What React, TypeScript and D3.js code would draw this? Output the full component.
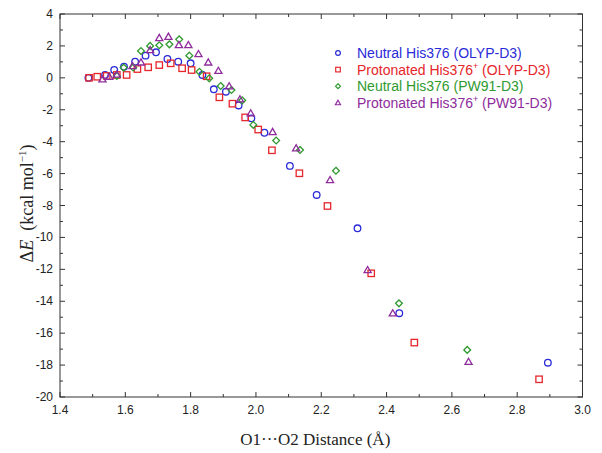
import React from "react";
import * as d3 from "d3";

const neutralOLYP_x = [1.487, 1.538, 1.566, 1.596, 1.630, 1.662, 1.694, 1.729, 1.762, 1.800, 1.836, 1.871, 1.908, 1.947, 1.986, 2.026, 2.104, 2.186, 2.311, 2.439, 2.894];
const neutralOLYP_y = [0.0, 0.18, 0.49, 0.70, 1.01, 1.39, 1.60, 1.18, 1.01, 0.91, 0.18, -0.72, -0.87, -1.73, -2.54, -3.44, -5.52, -7.34, -9.43, -14.75, -17.85];

const protOLYP_x = [1.489, 1.514, 1.543, 1.574, 1.604, 1.637, 1.670, 1.704, 1.739, 1.774, 1.803, 1.849, 1.888, 1.928, 1.967, 2.007, 2.049, 2.133, 2.219, 2.353, 2.485, 2.867];
const protOLYP_y = [0.0, 0.07, 0.12, 0.18, 0.18, 0.55, 0.66, 0.80, 0.91, 0.60, 0.49, 0.10, -1.22, -1.62, -2.48, -3.24, -4.54, -5.98, -8.03, -12.25, -16.59, -18.89];

const neutralPW91_x = [1.574, 1.595, 1.624, 1.648, 1.676, 1.704, 1.735, 1.765, 1.796, 1.827, 1.857, 1.892, 1.925, 1.958, 1.992, 2.062, 2.135, 2.245, 2.438, 2.647];
const neutralPW91_y = [0.12, 0.64, 0.65, 1.68, 2.0, 2.04, 2.10, 2.41, 1.39, 0.38, -0.03, -0.51, -0.76, -1.41, -2.95, -3.93, -4.52, -5.82, -14.13, -17.05];

const protPW91_x = [1.530, 1.551, 1.574, 1.622, 1.648, 1.676, 1.704, 1.732, 1.764, 1.793, 1.824, 1.854, 1.885, 1.918, 1.951, 1.984, 2.051, 2.123, 2.227, 2.342, 2.419, 2.651];
const protPW91_y = [-0.09, 0.07, 0.21, 0.74, 0.97, 1.74, 2.50, 2.58, 2.06, 2.06, 1.49, 0.97, 0.44, -0.53, -1.34, -2.22, -3.39, -4.41, -6.40, -12.04, -14.75, -17.79];

const xTicks = [1.4, 1.6, 1.8, 2.0, 2.2, 2.4, 2.6, 2.8, 3.0];
const yTicks = [4, 2, 0, -2, -4, -6, -8, -10, -12, -14, -16, -18, -20];

type Series = { name: string; sup: boolean; suffix: string; color: string; shape: string; xs: number[]; ys: number[] };

const series: Series[] = [
  { name: "Neutral His376", sup: false, suffix: " (OLYP-D3)", color: "#2a2ad8", shape: "circle", xs: neutralOLYP_x, ys: neutralOLYP_y },
  { name: "Protonated His376", sup: true, suffix: " (OLYP-D3)", color: "#e5262b", shape: "square", xs: protOLYP_x, ys: protOLYP_y },
  { name: "Neutral His376", sup: false, suffix: " (PW91-D3)", color: "#2f9a2f", shape: "diamond", xs: neutralPW91_x, ys: neutralPW91_y },
  { name: "Protonated His376", sup: true, suffix: " (PW91-D3)", color: "#8e2c9c", shape: "triangle", xs: protPW91_x, ys: protPW91_y },
];

const W = 602, H = 453;
const L = 60, R = 582.5, T = 14, B = 397;

function Marker({ shape, x, y, color, scale = 1 }: { shape: string; x: number; y: number; color: string; scale?: number }) {
  const sw = 1.3 * (scale < 1 ? 0.9 : 1);
  if (shape === "circle") {
    return <circle cx={x} cy={y} r={3.3 * scale} fill="none" stroke={color} strokeWidth={sw} />;
  }
  if (shape === "square") {
    const s = 6.4 * scale;
    return <rect x={x - s / 2} y={y - s / 2} width={s} height={s} fill="none" stroke={color} strokeWidth={sw} />;
  }
  if (shape === "diamond") {
    const h = 3.4 * scale;
    const path = d3.path();
    path.moveTo(0, -h);
    path.lineTo(h, 0);
    path.lineTo(0, h);
    path.lineTo(-h, 0);
    path.closePath();
    return <path d={path.toString()} transform={`translate(${x},${y})`} fill="none" stroke={color} strokeWidth={sw} />;
  }
  const path = d3.symbol().type(d3.symbolTriangle).size(22 * scale * scale)() as string;
  return <path d={path} transform={`translate(${x},${y + 0.6 * scale})`} fill="none" stroke={color} strokeWidth={sw} />;
}

export default function App() {
  const x = d3.scaleLinear().domain([1.4, 3.0]).range([L, R]);
  const y = d3.scaleLinear().domain([-20, 4]).range([B, T]);

  const xMinor = d3.range(14, 31).map((v) => v / 10);
  const yMinor = d3.range(-20, 5);

  const tickFont = "'Liberation Sans', Arial, sans-serif";
  const serif = "'Liberation Serif', 'Times New Roman', serif";

  return (
    <svg width={W} height={H} style={{ position: "absolute", left: 0, top: 0, background: "#fff" }}>
      <rect x={0} y={0} width={W} height={H} fill="#fff" />
      <g stroke="#333" strokeWidth={1}>
        {xMinor.map((v, i) => {
          const major = xTicks.some((t) => Math.abs(t - v) < 1e-6);
          const len = major ? 5 : 3;
          return (
            <g key={"xt" + i}>
              <line x1={x(v)} x2={x(v)} y1={B} y2={B - len} />
              <line x1={x(v)} x2={x(v)} y1={T} y2={T + len} />
            </g>
          );
        })}
        {yMinor.map((v, i) => {
          const major = v % 2 === 0;
          const len = major ? 5 : 3;
          return (
            <g key={"yt" + i}>
              <line x1={L} x2={L + len} y1={y(v)} y2={y(v)} />
              <line x1={R} x2={R - len} y1={y(v)} y2={y(v)} />
            </g>
          );
        })}
      </g>
      <rect x={L} y={T} width={R - L} height={B - T} fill="none" stroke="#333" strokeWidth={1} />
      <g fontFamily={tickFont} fontSize={12} fill="#222">
        {xTicks.map((t) => (
          <text key={"xl" + t} x={x(t)} y={B + 17} textAnchor="middle">{t.toFixed(1)}</text>
        ))}
        {yTicks.map((t) => (
          <text key={"yl" + t} x={L - 7} y={y(t) + 4} textAnchor="end">{t}</text>
        ))}
      </g>
      <text x={(L + R) / 2 - 6} y={445} textAnchor="middle" fontFamily={serif} fontSize={17} fill="#222">
        O1···O2 Distance  (Å)
      </text>
      <text transform={`translate(33,${(T + B) / 2 - 2}) rotate(-90)`} textAnchor="middle" fontFamily={serif} fontSize={18} fill="#222" xmlSpace="preserve">
        <tspan>Δ</tspan><tspan fontStyle="italic">E</tspan><tspan>{"  (kcal mol"}</tspan>
        <tspan fontSize={11} dy={-7}>−1</tspan>
        <tspan dy={7}>)</tspan>
      </text>
      {series.map((s, si) => (
        <g key={"s" + si}>
          {s.xs.map((xv, i) => (
            <Marker key={i} shape={s.shape} x={x(xv)} y={y(s.ys[i])} color={s.color} />
          ))}
        </g>
      ))}
      <g fontFamily={tickFont} fontSize={14}>
        {series.map((s, i) => {
          const ly = 53 + i * 16.6;
          return (
            <g key={"lg" + i}>
              <Marker shape={s.shape} x={338} y={ly} color={s.color} scale={0.72} />
              <text x={357} y={ly + 5} fill={s.color}>
                {s.name}
                {s.sup ? <tspan fontSize={9} dy={-6}>+</tspan> : null}
                {s.sup ? <tspan dy={6}>{s.suffix}</tspan> : <tspan>{s.suffix}</tspan>}
              </text>
            </g>
          );
        })}
      </g>
    </svg>
  );
}
